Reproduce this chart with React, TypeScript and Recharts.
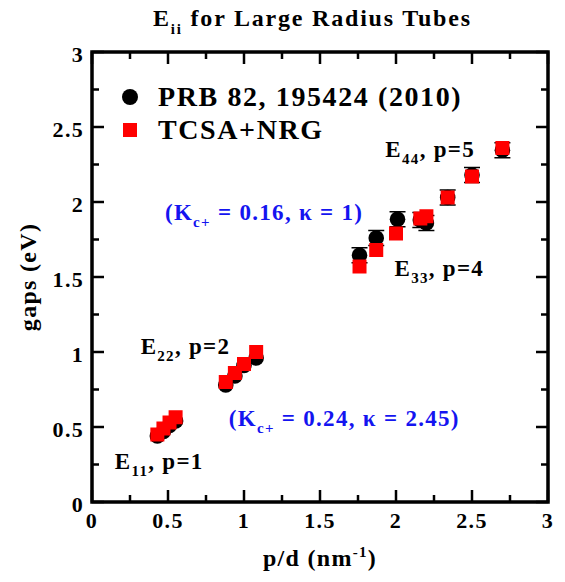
import React from 'react';
import { ScatterChart, Scatter, XAxis, YAxis, ErrorBar, ReferenceArea, ReferenceDot, Legend } from 'recharts';

const FONT = '"Times New Roman", Times, "Liberation Serif", Tinos, serif';
const BLUE = '#1414f0';
const W = 565;
const H = 582;
const MARGIN = { top: 52, right: 17, bottom: 0, left: 0 };
const Y_AXIS_W = 92;
const X_AXIS_H = 80;
const PLOT_W = W - MARGIN.left - MARGIN.right - Y_AXIS_W;
const PLOT_H = H - MARGIN.top - MARGIN.bottom - X_AXIS_H;

// PRB 82, 195424 (2010) - black circles
const prbX = [0.43, 0.47, 0.51, 0.55, 0.88, 0.94, 1.0, 1.08, 1.76, 1.87, 2.01, 2.16, 2.2, 2.34, 2.5, 2.7];
const prbGap = [0.44, 0.47, 0.51, 0.54, 0.78, 0.84, 0.91, 0.96, 1.645, 1.76, 1.885, 1.88, 1.86, 2.03, 2.18, 2.345];
const prbErr = [null, null, null, null, null, null, null, null, 0.05, 0.05, 0.05, 0.05, 0.05, 0.05, 0.05, 0.05];

// TCSA+NRG - red squares
const tcsaX = [0.43, 0.47, 0.51, 0.55, 0.88, 0.94, 1.0, 1.08, 1.76, 1.87, 2.0, 2.16, 2.2, 2.34, 2.5, 2.7];
const tcsaGap = [0.45, 0.49, 0.53, 0.565, 0.8, 0.86, 0.92, 1.0, 1.57, 1.68, 1.79, 1.89, 1.905, 2.03, 2.17, 2.36];

const xTicks = [0, 0.25, 0.5, 0.75, 1, 1.25, 1.5, 1.75, 2, 2.25, 2.5, 2.75, 3];
const yTicks = [0, 0.25, 0.5, 0.75, 1, 1.25, 1.5, 1.75, 2, 2.25, 2.5, 2.75, 3];

const seriesNames = ['PRB 82, 195424 (2010)', 'TCSA+NRG'];

const prbData = prbX.map((x, i) => ({ x, y: prbGap[i], err: prbErr[i] }));
const tcsaData = tcsaX.map((x, i) => ({ x, y: tcsaGap[i] }));

const textStyle = { fontFamily: FONT, fontWeight: 'bold' as const, letterSpacing: 1.3 };

const isMajor = (v: number) => Math.abs(v * 2 - Math.round(v * 2)) < 1e-6;

const XTick = (props: any) => {
  const { x, y, payload } = props;
  const len = isMajor(payload.value) ? 12 : 7;
  return (
    <g>
      <line x1={x} y1={y} x2={x} y2={y - len} stroke="#000" strokeWidth={2.5} />
      <line x1={x} y1={y - PLOT_H} x2={x} y2={y - PLOT_H + len} stroke="#000" strokeWidth={2.5} />
      {isMajor(payload.value) && (
        <text x={x} y={y + 26} textAnchor="middle" fontSize={22} fill="#000" style={textStyle}>
          {String(payload.value)}
        </text>
      )}
    </g>
  );
};

const YTick = (props: any) => {
  const { x, y, payload } = props;
  const len = isMajor(payload.value) ? 12 : 7;
  return (
    <g>
      <line x1={x} y1={y} x2={x + len} y2={y} stroke="#000" strokeWidth={2.5} />
      <line x1={x + PLOT_W} y1={y} x2={x + PLOT_W - len} y2={y} stroke="#000" strokeWidth={2.5} />
      {isMajor(payload.value) && (
        <text x={x - 8} y={y + 10} textAnchor="end" fontSize={22} fill="#000" style={textStyle}>
          {String(payload.value)}
        </text>
      )}
    </g>
  );
};

const Circle = (props: any) => <circle cx={props.cx} cy={props.cy} r={7.8} fill="#000" />;
const Square = (props: any) => <rect x={props.cx - 7} y={props.cy - 7} width={14} height={14} fill="#ff0000" />;

// E_nn, p=k style label
const BandLabel = (props: any) => {
  const { viewBox, main, sub, rest } = props;
  const x = viewBox.x + (viewBox.width || 0) / 2;
  const y = viewBox.y + (viewBox.height || 0) / 2;
  return (
    <text x={x} y={y} fontSize={23} fill="#000" style={textStyle}>
      {main}
      <tspan dy={7} fontSize={15}>{sub}</tspan>
      <tspan dy={-7}>{rest}</tspan>
    </text>
  );
};

const ParamLabel = (props: any) => {
  const { viewBox, rest } = props;
  const x = viewBox.x + (viewBox.width || 0) / 2;
  const y = viewBox.y + (viewBox.height || 0) / 2;
  return (
    <text x={x} y={y} fontSize={23} fill={BLUE} style={textStyle}>
      (K
      <tspan dy={7} fontSize={15}>c+</tspan>
      <tspan dy={-7}>{rest}</tspan>
    </text>
  );
};

const renderLegend = (props: any) => {
  const { payload } = props;
  return (
    <div style={{ fontFamily: FONT, fontWeight: 'bold', fontSize: 28, letterSpacing: 1.6, color: '#000' }}>
      {(payload || []).map((entry: any, i: number) => (
        <div key={i} style={{ display: 'flex', alignItems: 'center', height: 33 }}>
          <svg width={24} height={24} style={{ marginRight: 16 }}>
            {i === 0 ? <circle cx={12} cy={12} r={8} fill="#000" /> : <rect x={5} y={5} width={14} height={14} fill="#ff0000" />}
          </svg>
          <span>{entry.value}</span>
        </div>
      ))}
    </div>
  );
};

export default function App() {
  return (
    <div style={{ position: 'absolute', left: 0, top: 0, width: W, height: H, background: '#fff' }}>
      <svg width={W} height={40} style={{ position: 'absolute', left: 0, top: 0 }}>
        <text x={153} y={26} fontSize={24} fill="#000" style={{ ...textStyle, letterSpacing: 1.8 }}>
          E<tspan dy={8} fontSize={15}>ii</tspan>
          <tspan dy={-8}> for Large Radius Tubes</tspan>
        </text>
      </svg>
      <ScatterChart width={W} height={H} margin={MARGIN}>
        <XAxis
          type="number"
          dataKey="x"
          domain={[0, 3]}
          ticks={xTicks}
          interval={0}
          height={X_AXIS_H}
          axisLine={false}
          tickLine={false}
          tickSize={0}
          tickMargin={0}
          tick={<XTick />}
          label={{
            content: (p: any) => (
              <text x={p.viewBox.x + p.viewBox.width / 2} y={p.viewBox.y + 64} textAnchor="middle" fontSize={24} fill="#000" style={textStyle}>
                p/d (nm<tspan dy={-9} fontSize={15}>-1</tspan><tspan dy={9}>)</tspan>
              </text>
            ),
          }}
        />
        <YAxis
          type="number"
          dataKey="y"
          domain={[0, 3]}
          ticks={yTicks}
          interval={0}
          width={Y_AXIS_W}
          axisLine={false}
          tickLine={false}
          tickSize={0}
          tickMargin={0}
          tick={<YTick />}
          label={{
            content: (p: any) => {
              const cy = p.viewBox.y + p.viewBox.height / 2;
              return (
                <text x={36} y={cy} transform={`rotate(-90, 36, ${cy})`} textAnchor="middle" fontSize={24} fill="#000" style={textStyle}>
                  gaps (eV)
                </text>
              );
            },
          }}
        />
        <ReferenceArea x1={0} x2={3} y1={0} y2={3} fill="none" stroke="#000" strokeWidth={3.5} />
        <Legend
          verticalAlign="middle"
          layout="horizontal"
          content={renderLegend}
          wrapperStyle={{ left: 118, top: 80, width: 380 }}
        />
        <Scatter name={seriesNames[0]} data={prbData} fill="#000" shape={<Circle />} isAnimationActive={false}>
          <ErrorBar dataKey="err" direction="y" width={8} stroke="#000" strokeWidth={1.5} />
        </Scatter>
        <Scatter name={seriesNames[1]} data={tcsaData} fill="#ff0000" shape={<Square />} isAnimationActive={false} />
        <ReferenceDot x={0.32} y={0.99} r={0} fill="none" stroke="none" label={<BandLabel main="E" sub="22" rest=", p=2" />} />
        <ReferenceDot x={0.15} y={0.22} r={0} fill="none" stroke="none" label={<BandLabel main="E" sub="11" rest=", p=1" />} />
        <ReferenceDot x={1.99} y={1.51} r={0} fill="none" stroke="none" label={<BandLabel main="E" sub="33" rest=", p=4" />} />
        <ReferenceDot x={1.93} y={2.3} r={0} fill="none" stroke="none" label={<BandLabel main="E" sub="44" rest=", p=5" />} />
        <ReferenceDot x={0.48} y={1.88} r={0} fill="none" stroke="none" label={<ParamLabel rest=" = 0.16, κ = 1)" />} />
        <ReferenceDot x={0.9} y={0.51} r={0} fill="none" stroke="none" label={<ParamLabel rest=" = 0.24, κ = 2.45)" />} />
      </ScatterChart>
    </div>
  );
}
